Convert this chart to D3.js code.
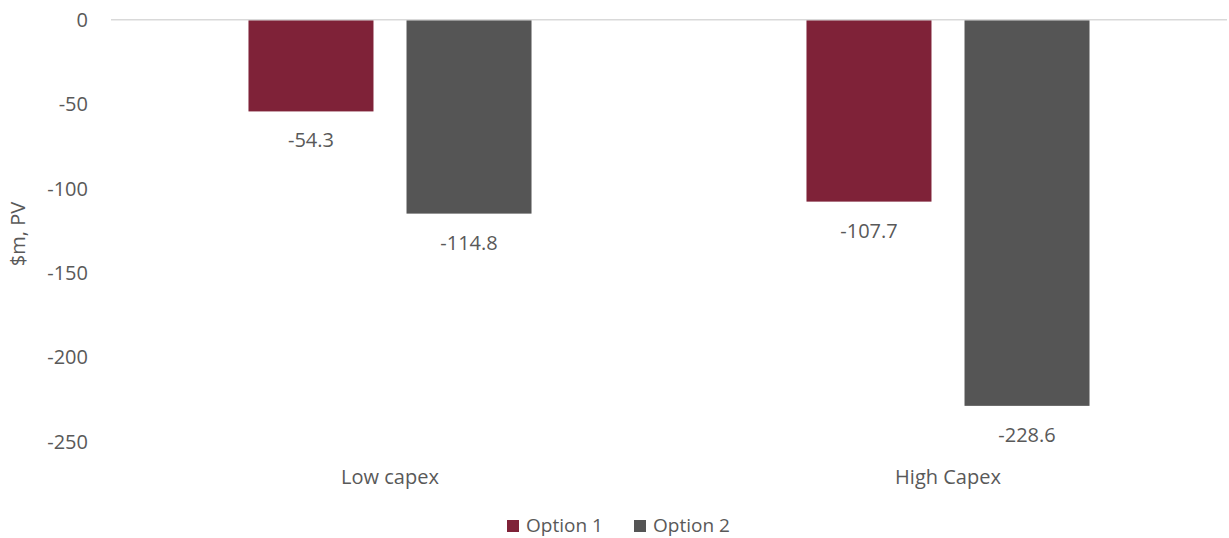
<!DOCTYPE html>
<html>
<head>
<meta charset="utf-8">
<script src="https://cdn.jsdelivr.net/npm/d3@7"></script>
<style>
  body { margin: 0; background: #fff; }
  svg text { font-family: "Open Sans", sans-serif; fill: #595959; }
</style>
</head>
<body>
<svg id="chart"></svg>
<script>
const categories = ['Low capex', 'High Capex'];
const seriesNames = ['Option 1', 'Option 2'];
const option1 = [-54.3, -107.7];
const option2 = [-114.8, -228.6];
const yTicks = [0, -50, -100, -150, -200, -250];
const colors = ['#7f2238', '#555555'];

const svgWidth = 1229;
const svgHeight = 538;
const plot = { left: 111, right: 1227, top: 19.7, bottom: 442 };

const svg = d3.select('#chart')
  .attr('width', svgWidth)
  .attr('height', svgHeight);

const x0 = d3.scaleBand()
  .domain(categories)
  .range([plot.left, plot.right]);

const x1 = d3.scaleBand()
  .domain(seriesNames)
  .range([0, x0.bandwidth()])
  .paddingInner(0.209)
  .paddingOuter(0.87);

const y = d3.scaleLinear()
  .domain([-250, 0])
  .range([plot.bottom, plot.top]);

const rows = categories.map((c, i) => ({
  category: c,
  values: [
    { name: seriesNames[0], value: option1[i] },
    { name: seriesNames[1], value: option2[i] }
  ]
}));

// y axis labels (no line)
const yAxis = svg.append('g')
  .attr('transform', `translate(${plot.left}, 0)`)
  .call(d3.axisLeft(y).tickValues(yTicks).tickSize(0).tickPadding(23)
    .tickFormat(d => String(d)));
yAxis.select('.domain').remove();
yAxis.selectAll('text')
  .attr('font-size', 20)
  .style('font-family', '"Open Sans", sans-serif')
  .attr('fill', '#595959');

svg.append('text')
  .attr('transform', 'translate(25, 234) rotate(-90)')
  .attr('text-anchor', 'middle')
  .attr('font-size', 20)
  .text('$m, PV');

// bars
const group = svg.selectAll('.cat')
  .data(rows)
  .enter()
  .append('g')
  .attr('transform', d => `translate(${x0(d.category)}, 0)`);

group.selectAll('rect')
  .data(d => d.values)
  .enter()
  .append('rect')
  .attr('x', d => x1(d.name))
  .attr('y', y(0))
  .attr('width', x1.bandwidth())
  .attr('height', d => y(d.value) - y(0))
  .attr('fill', (d, i) => colors[i]);

group.selectAll('.lbl')
  .data(d => d.values)
  .enter()
  .append('text')
  .attr('class', 'lbl')
  .attr('x', d => x1(d.name) + x1.bandwidth() / 2)
  .attr('y', d => y(d.value) + 29)
  .attr('dy', '0.35em')
  .attr('text-anchor', 'middle')
  .attr('font-size', 20)
  .text(d => d.value.toFixed(1));

// zero line
svg.append('line')
  .attr('x1', plot.left)
  .attr('x2', plot.right)
  .attr('y1', y(0))
  .attr('y2', y(0))
  .attr('stroke', '#d9d9d9')
  .attr('stroke-width', 1.5);

// category labels
svg.selectAll('.cat-label')
  .data(categories)
  .enter()
  .append('text')
  .attr('x', d => x0(d) + x0.bandwidth() / 2)
  .attr('y', 477)
  .attr('dy', '0.35em')
  .attr('text-anchor', 'middle')
  .attr('font-size', 20)
  .text(d => d);

// legend
const legendX = [507, 634];
const legend = svg.selectAll('.legend')
  .data(seriesNames)
  .enter()
  .append('g')
  .attr('transform', (d, i) => `translate(${legendX[i]}, 525)`);

legend.append('rect')
  .attr('x', 0)
  .attr('y', -5)
  .attr('width', 12)
  .attr('height', 12)
  .attr('fill', (d, i) => colors[i]);

legend.append('text')
  .attr('x', 19)
  .attr('dy', '0.35em')
  .attr('font-size', 19)
  .text(d => d);
</script>
</body>
</html>
